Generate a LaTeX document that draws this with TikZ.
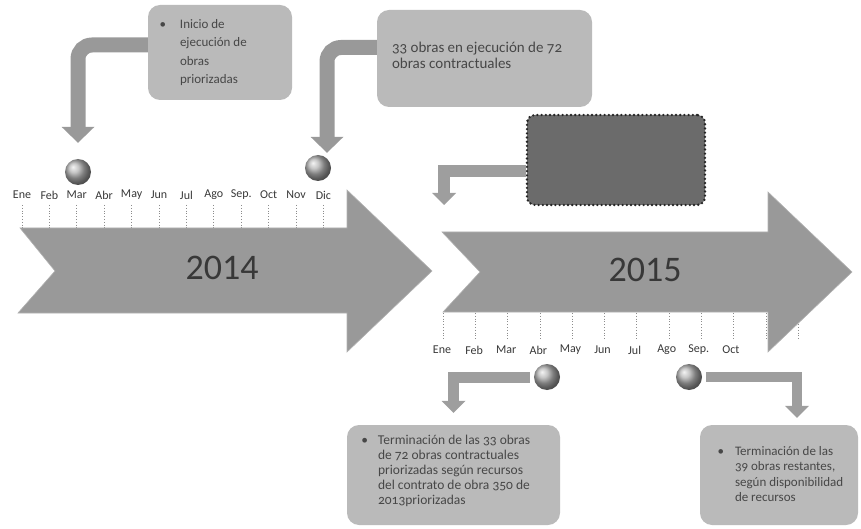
\documentclass[tikz,border=0pt]{standalone}
\usepackage{fontspec}
\setmainfont{Carlito}
\newfontfamily\boxfont{Carlito}[Numbers=OldStyle]
\usetikzlibrary{arrows.meta}

\tikzset{
	yearbody/.style={fill=black!40, draw=black!30, line width=0.6pt},
	yearlbl/.style={font=\fontsize{36}{36}\selectfont, text=black!78, inner sep=0pt},
	monthlbl/.style={font=\fontsize{12}{13}\selectfont, text=black!78, inner sep=0pt},
	monthtick/.style={draw=black!45, line width=0.8pt, dotted},
	infobox/.style={fill=black!27, rounded corners=12pt},
	darkbox/.style={fill=black!58, rounded corners=8pt, draw=black!85, line width=2.6pt, dash pattern=on 0pt off 4.2pt, line cap=round},
	boxtext/.style={text=black!72, align=left, inner sep=0pt},
	hito/.style={circle, minimum size=26pt, inner sep=0pt, shading=ball, ball color=black!30},
	bentarrow/.style={draw=black!40, line width=15pt, rounded corners=14pt, -{Triangle[width=33pt,length=16pt,line width=0pt]}},
	lowarrow/.style={draw=black!38, line width=11pt, -{Triangle[width=24pt,length=12pt,line width=0pt]}},
}

\begin{document}
\begin{tikzpicture}[x=1pt, y=-1pt]
	\useasboundingbox (0,0) rectangle (861,529);

	% months
	\foreach \mes [count=\i from 0] in {Ene,Feb,Mar,Abr,May,Jun,Jul,Ago,Sep.,Oct,Nov,Dic} {
		\node[monthlbl] (m14-\i) at ({22+27.4*\i},195) {\mes};
		\draw[monthtick] ({22+27.4*\i},205) -- ++(0,23);
	}
	\foreach \mes [count=\i from 0] in {Ene,Feb,Mar,Abr,May,Jun,Jul,Ago,Sep.,Oct}
		\node[monthlbl] (m15-\i) at ({442+32.1*\i},350) {\mes};
	\foreach \i in {0,...,11}
		\draw[monthtick] ({443+32.3*\i},313) -- ++(0,27);

	% year arrows
	\fill[yearbody] (20,228) -- (347,228) -- (347,190) -- (432,271) -- (347,352) -- (347,313) -- (18,313) -- (55,271) -- cycle;
	\fill[yearbody] (442,232) -- (768,232) -- (768,192) -- (852,272) -- (768,352) -- (768,312) -- (443,312) -- (480,272) -- cycle;
	\node[yearlbl] (y14) at (222,268) {2014};
	\node[yearlbl] (y15) at (645,270) {2015};

	% milestones
	\node[hito] (ball1) at (78,172) {};
	\node[hito] (ball2) at (318,168) {};
	\node[hito] (ball3) at (547,377) {};
	\node[hito] (ball4) at (689,377) {};

	% boxes
	\node[infobox, minimum width=144pt, minimum height=95pt] (inicio) at (220,52.5) {};
	\node[infobox, minimum width=215pt, minimum height=97pt] (ejec) at (484.5,58.5) {};
	\node[darkbox, minimum width=178pt, minimum height=90pt] (obras) at (616,160) {};
	\node[infobox, minimum width=213pt, minimum height=100pt] (term) at (453.5,475) {};
	\node[infobox, minimum width=158pt, minimum height=100pt] (fin) at (779,475) {};
	\coordinate (a15) at (444,205);

	\node[boxtext, font={\boxfont\fontsize{13}{18.5}\selectfont}, anchor=west] (inicioTxt) at ([xshift=32pt]inicio.west)
		{\llap{\textbullet\hspace{14pt}}Inicio de\\ejecución de\\obras\\priorizadas};
	\node[boxtext, font={\boxfont\fontsize{15}{16.5}\selectfont}, anchor=west] (ejecTxt) at ([shift={(15pt,3pt)}]ejec.west)
		{33 obras en ejecución de 72\\obras contractuales};
	\node[boxtext, font={\boxfont\fontsize{13.5}{15}\selectfont}, anchor=west] (termTxt) at ([shift={(31pt,4pt)}]term.west)
		{\llap{\textbullet\hspace{10pt}}Terminación de las 33 obras\\de 72 obras contractuales\\priorizadas según recursos\\del contrato de obra 350 de\\2013priorizadas};
	\node[boxtext, font={\boxfont\fontsize{13}{15.5}\selectfont}, anchor=west] (finTxt) at ([shift={(35pt,1pt)}]fin.west)
		{\llap{\textbullet\hspace{11pt}}Terminación de las\\39 obras restantes,\\según disponibilidad\\de recursos};

	% connectors
	\draw[bentarrow] ([yshift=7.5pt]inicio.west) -| ([yshift=16pt]ball1.north);
	\draw[bentarrow] ([yshift=11pt]ejec.west) -| ([shift={(9pt,2pt)}]ball2.north);
	\draw[lowarrow, line width=12pt] ([yshift=-11pt]obras.west) -| (a15);
	\draw[lowarrow, shorten <=4pt] (ball3.west) -| ([yshift=12pt]term.north);
	\draw[lowarrow, line width=10pt, shorten <=4pt] (ball4.east) -| ([shift={(18pt,7pt)}]fin.north);
\end{tikzpicture}
\end{document}
